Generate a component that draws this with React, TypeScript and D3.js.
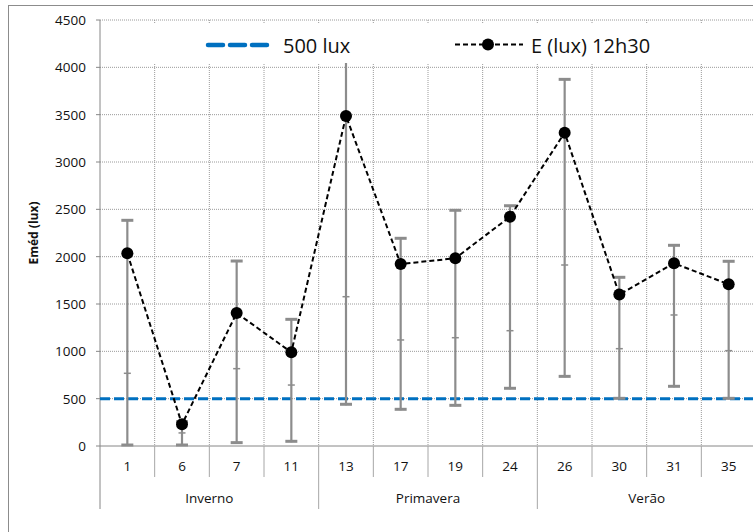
import React from "react";
import * as d3 from "d3";

// dados
const categories = ["1", "6", "7", "11", "13", "17", "19", "24", "26", "30", "31", "35"];
const seasonNames = ["Inverno", "Primavera", "Verão"];
const seasonSpan = [4, 4, 4];
const eMean = [2035, 229, 1405, 990, 3486, 1922, 1983, 2422, 3310, 1600, 1930, 1708];
const eMax = [2384, 257, 1954, 1338, 4300, 2194, 2490, 2538, 3873, 1782, 2120, 1951];
const eMin = [0, 0, 25, 39, 430, 377, 419, 599, 725, 493, 620, 493];
const eLow = [768, 138, 817, 644, 1577, 1120, 1144, 1218, 1912, 1028, 1384, 1007];
const yTicks = [0, 500, 1000, 1500, 2000, 2500, 3000, 3500, 4000, 4500];
const limit = 500;

const W = 753;
const H = 532;
const font = "'Open Sans', 'Noto Sans', sans-serif";

const App = () => {
    const left = 100;
    const right = 756;
    const top = 20;
    const bottom = 446;

    const x = d3.scaleBand().domain(categories).range([left, right]);
    const y = d3.scaleLinear().domain([0, 4500]).range([bottom, top]);
    const cx = (c: string) => (x(c) as number) + x.bandwidth() / 2;

    const line = d3
        .line<number>()
        .x((_, i) => cx(categories[i]))
        .y((d) => y(d));

    // limites das estações
    const bounds: number[] = [];
    let acc = 0;
    seasonSpan.forEach((s) => {
        bounds.push(acc);
        acc += s;
    });

    const grid = "#9a9a9a";
    const axis = "#868686";
    const bar = "#8c8c8c";

    return (
        <svg width={W} height={H} style={{ position: "absolute", left: 0, top: 0 }}>
            <rect x={0} y={0} width={W} height={H} fill="#fff" />
            <rect x={8.5} y={5.5} width={W + 20} height={H + 20} fill="none" stroke="#8c8c8c" />

            {/* grade horizontal */}
            {yTicks.slice(1).map((t) => (
                <line key={"h" + t} x1={left} x2={right} y1={y(t)} y2={y(t)}
                    stroke={grid} strokeDasharray="1,1" />
            ))}
            {/* grade vertical */}
            {categories.map((c) => (
                <line key={"v" + c} x1={(x(c) as number) + x.bandwidth()} x2={(x(c) as number) + x.bandwidth()}
                    y1={top} y2={bottom} stroke={grid} strokeDasharray="1,1" />
            ))}

            {/* eixo y */}
            <line x1={left} x2={left} y1={top} y2={509} stroke={axis} />
            {yTicks.map((t) => (
                <g key={"yt" + t}>
                    <line x1={left - 4} x2={left} y1={y(t)} y2={y(t)} stroke={axis} />
                    <text x={86} y={y(t) + 5} textAnchor="end" fontSize={13.5} fontFamily={font} fill="#111">
                        {t}
                    </text>
                </g>
            ))}
            <text transform={`translate(38,${(top + bottom) / 2}) rotate(-90)`} textAnchor="middle"
                fontSize={12} fontWeight="bold" fontFamily={font} fill="#111">
                Eméd (lux)
            </text>

            {/* eixo x */}
            <line x1={left} x2={right} y1={bottom} y2={bottom} stroke={axis} />
            {categories.map((c, i) => {
                const bx = (x(c) as number) + x.bandwidth();
                const isGroup = bounds.includes(i + 1);
                return (
                    <line key={"xt" + c} x1={bx} x2={bx} y1={bottom} y2={isGroup ? 509 : 477}
                        stroke="#a6a6a6" />
                );
            })}
            {categories.map((c) => (
                <text key={"xl" + c} x={cx(c)} y={471} textAnchor="middle" fontSize={13.5}
                    fontFamily={font} fill="#111">
                    {c}
                </text>
            ))}
            {seasonNames.map((s, i) => {
                const a = x(categories[bounds[i]]) as number;
                const b = (x(categories[bounds[i] + seasonSpan[i] - 1]) as number) + x.bandwidth();
                return (
                    <text key={s} x={(a + b) / 2} y={503} textAnchor="middle" fontSize={13.5}
                        fontFamily={font} fill="#111">
                        {s}
                    </text>
                );
            })}

            {/* linha 500 lux */}
            <line x1={left} x2={right} y1={y(limit)} y2={y(limit)} stroke="#0070c0"
                strokeWidth={3} strokeDasharray="10,4" />

            {/* barras de erro */}
            {categories.map((c, i) => {
                const px = cx(c);
                return (
                    <g key={"eb" + c} stroke={bar}>
                        <line x1={px} x2={px} y1={y(eMin[i])} y2={y(eMax[i])} strokeWidth={2.2} />
                        <line x1={px - 6} x2={px + 6} y1={y(eMax[i])} y2={y(eMax[i])} strokeWidth={3} />
                        <line x1={px - 6} x2={px + 6} y1={y(eMin[i]) - 1} y2={y(eMin[i]) - 1} strokeWidth={3} />
                        <line x1={px - 3.5} x2={px + 3.5} y1={y(eLow[i])} y2={y(eLow[i])} strokeWidth={1.5} />
                    </g>
                );
            })}

            {/* série E (lux) 12h30 */}
            <path d={line(eMean) as string} fill="none" stroke="#000" strokeWidth={2}
                strokeDasharray="5,3" />
            {eMean.map((v, i) => (
                <circle key={"p" + i} cx={cx(categories[i])} cy={y(v)} r={6} fill="#000" />
            ))}

            {/* legenda */}
            <rect x={108} y={24} width={W} height={39} fill="#fff" />
            <line x1={208} x2={270} y1={45} y2={45} stroke="#0070c0" strokeWidth={4.5}
                strokeDasharray="15,7" strokeLinecap="round" />
            <text x={283} y={52.5} fontSize={20} fontFamily={font} fill="#111">500 lux</text>
            <line x1={455} x2={523} y1={44.5} y2={44.5} stroke="#000" strokeWidth={2}
                strokeDasharray="5,3" />
            <circle cx={488} cy={44.5} r={6} fill="#000" />
            <text x={531} y={52.5} fontSize={20} fontFamily={font} fill="#111">E (lux) 12h30</text>
        </svg>
    );
};

export default App;
